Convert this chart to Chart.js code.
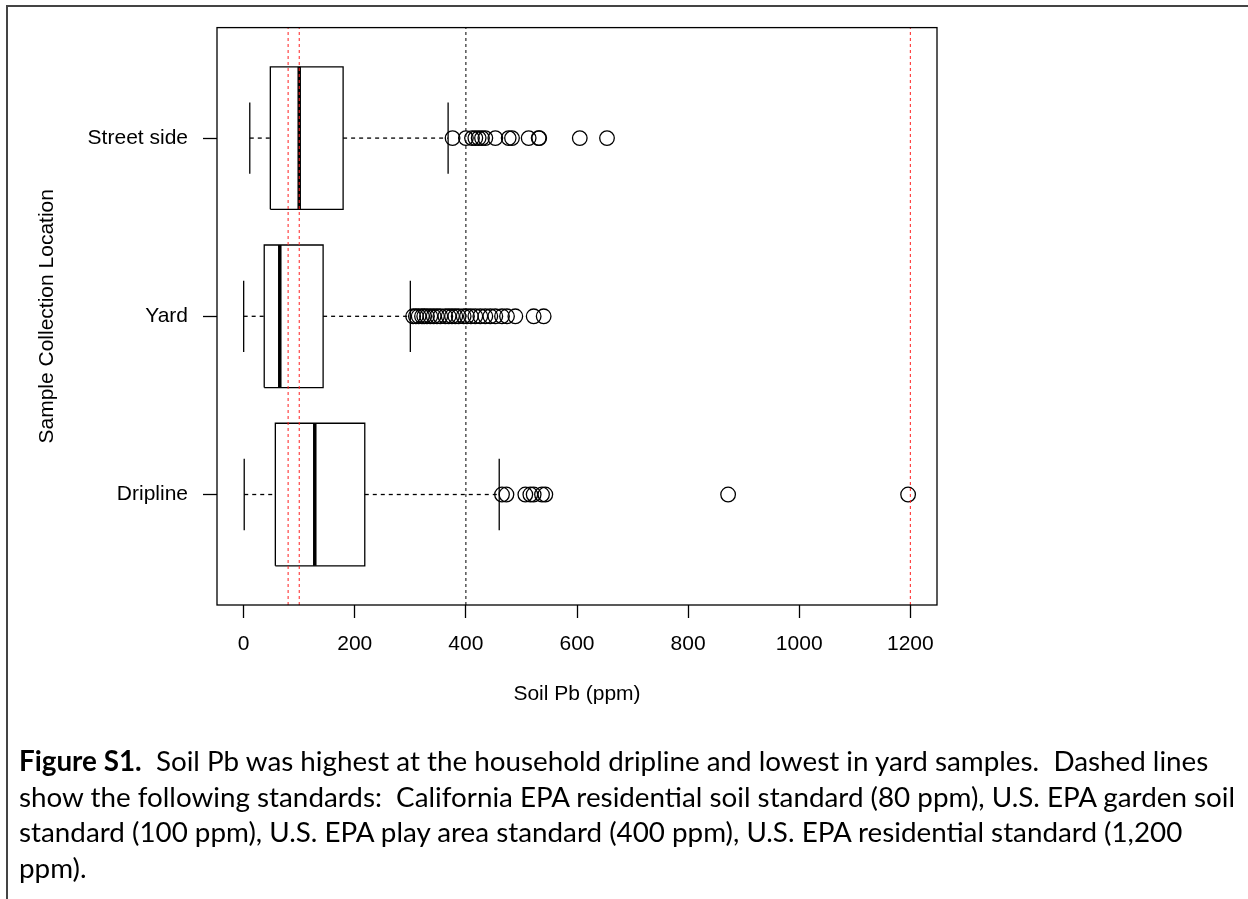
<!DOCTYPE html>
<html>
<head>
<meta charset="utf-8">
<title>Figure S1</title>
<script src="https://cdn.jsdelivr.net/npm/chart.js@4.4.1/dist/chart.umd.min.js"></script>
<style>
  html, body { margin: 0; padding: 0; background: #fff; }
  #page { position: relative; width: 1248px; height: 899px; overflow: hidden; }
  #frame { position: absolute; left: 6px; top: 5px; right: -10px; bottom: -10px;
           border-left: 2px solid #444; border-top: 2px solid #444; }
  #chart { position: absolute; left: 0; top: 0; }
  #caption { position: absolute; left: 19px; top: 743px; font-family: Lato, "Open Sans", sans-serif;
             font-size: 27.8px; line-height: 35.5px; color: #000; white-space: pre; }
</style>
</head>
<body>
<div id="page">
  <div id="frame"></div>
  <canvas id="chart" width="1248" height="899"></canvas>
  <div id="caption"><div><b>Figure S1.</b>  Soil Pb was highest at the household dripline and lowest in yard samples.  Dashed lines</div><div>show the following standards:  California EPA residential soil standard (80 ppm), U.S. EPA garden soil</div><div>standard (100 ppm), U.S. EPA play area standard (400 ppm), U.S. EPA residential standard (1,200</div><div>ppm).</div></div>
</div>
<script>
// groups bottom to top, as R lays out a horizontal boxplot
const groups = ['Dripline', 'Yard', 'Street side'];
const positions = [1, 2, 3];

// box statistics (ppm)
const whiskerLow = [1, 0, 11];
const q1 = [57, 37, 48];
const medians = [128, 65, 100];
const q3 = [218, 143, 179];
const whiskerHigh = [460, 300, 368];

// outliers per group
const outDripline = [465, 473, 507, 516, 522, 537, 543, 872, 1196];
const outYard = [305, 310, 315, 321, 325, 330, 336, 342, 348, 354, 363, 369, 375, 381, 387,
                 396, 402, 409, 417, 426, 435, 444, 453, 465, 474, 489, 522, 540];
const outStreet = [376, 400, 411, 417, 423, 429, 435, 453, 477, 483, 513, 531, 532, 605, 654];
const outliers = [outDripline, outYard, outStreet];

// soil standards shown as dashed lines
const standards = [80, 100, 400, 1200];

const xTicks = [0, 200, 400, 600, 800, 1000, 1200];

// ---- look ----
const FONT = { family: '"Liberation Sans", Arial, sans-serif', size: 21 };
const X_MIN = -48, X_MAX = 1248;
const Y_MIN = 0.38, Y_MAX = 3.62;
const BOX_HALF = 0.4, CAP_HALF = 0.2;
const LW = 1.3;
const standardColors = ['#ff2020', '#ff2020', '#000000', '#ff2020'];

function seg(points, width, dash) {
  return {
    data: points,
    showLine: true,
    pointRadius: 0,
    borderColor: '#000',
    borderWidth: width,
    borderDash: dash || [],
    borderCapStyle: 'butt',
    borderJoinStyle: 'miter',
    fill: false,
    tension: 0
  };
}

const datasets = [];

// standards first so they sit on top of the boxes
standards.forEach((v, i) => {
  const d = seg([{ x: v, y: Y_MIN }, { x: v, y: Y_MAX }], 1, [3, 3]);
  d.borderColor = standardColors[i];
  datasets.push(d);
});

datasets.push({
  data: outliers.flatMap((arr, i) => arr.map(v => ({ x: v, y: positions[i] }))),
  showLine: false,
  pointStyle: 'circle',
  pointRadius: 7.3,
  pointBorderWidth: LW,
  pointBorderColor: '#000',
  pointBackgroundColor: 'rgba(0,0,0,0)'
});

groups.forEach((g, i) => {
  const p = positions[i];
  datasets.push(seg([{ x: medians[i], y: p - BOX_HALF }, { x: medians[i], y: p + BOX_HALF }], 3.5));
  datasets.push(seg([
    { x: q1[i], y: p - BOX_HALF }, { x: q3[i], y: p - BOX_HALF },
    { x: q3[i], y: p + BOX_HALF }, { x: q1[i], y: p + BOX_HALF },
    { x: q1[i], y: p - BOX_HALF }
  ], LW));
  datasets.push(seg([{ x: whiskerLow[i], y: p }, { x: q1[i], y: p }], LW, [4, 4]));
  datasets.push(seg([{ x: q3[i], y: p }, { x: whiskerHigh[i], y: p }], LW, [4, 4]));
  datasets.push(seg([{ x: whiskerLow[i], y: p - CAP_HALF }, { x: whiskerLow[i], y: p + CAP_HALF }], LW));
  datasets.push(seg([{ x: whiskerHigh[i], y: p - CAP_HALF }, { x: whiskerHigh[i], y: p + CAP_HALF }], LW));
});

// plot frame (R box())
const plotBox = {
  id: 'plotBox',
  afterDatasetsDraw(chart) {
    const { ctx, chartArea: a } = chart;
    ctx.save();
    ctx.strokeStyle = '#000';
    ctx.lineWidth = LW;
    ctx.strokeRect(a.left, a.top, a.right - a.left, a.bottom - a.top);
    ctx.restore();
  }
};

new Chart(document.getElementById('chart'), {
  type: 'scatter',
  data: { datasets: datasets },
  plugins: [plotBox],
  options: {
    responsive: false,
    maintainAspectRatio: false,
    animation: false,
    events: [],
    layout: { padding: { left: 35, top: 24, right: 311, bottom: 192 } },
    plugins: { legend: { display: false }, tooltip: { enabled: false } },
    scales: {
      x: {
        type: 'linear',
        min: X_MIN,
        max: X_MAX,
        afterBuildTicks: s => { s.ticks = xTicks.map(v => ({ value: v })); },
        afterFit: s => { s.height = 102; },
        border: { display: false },
        grid: { drawOnChartArea: false, drawTicks: true, tickLength: 13, tickColor: '#000', tickWidth: LW },
        ticks: { padding: 14, color: '#000', font: FONT, maxRotation: 0, autoSkip: false,
                 callback: (v, i) => String(xTicks[i]) },
        title: { display: true, text: 'Soil Pb (ppm)', color: '#000', font: FONT, padding: 0 }
      },
      y: {
        type: 'linear',
        min: Y_MIN,
        max: Y_MAX,
        afterBuildTicks: s => { s.ticks = positions.map(v => ({ value: v })); },
        afterFit: s => { s.width = 182; },
        border: { display: false },
        grid: { drawOnChartArea: false, drawTicks: true, tickLength: 14, tickColor: '#000', tickWidth: LW },
        ticks: { padding: 15, color: '#000', font: FONT, autoSkip: false,
                 callback: (v, i) => groups[i] },
        title: { display: true, text: 'Sample Collection Location', color: '#000', font: FONT, padding: 0 }
      }
    }
  }
});
</script>
</body>
</html>
